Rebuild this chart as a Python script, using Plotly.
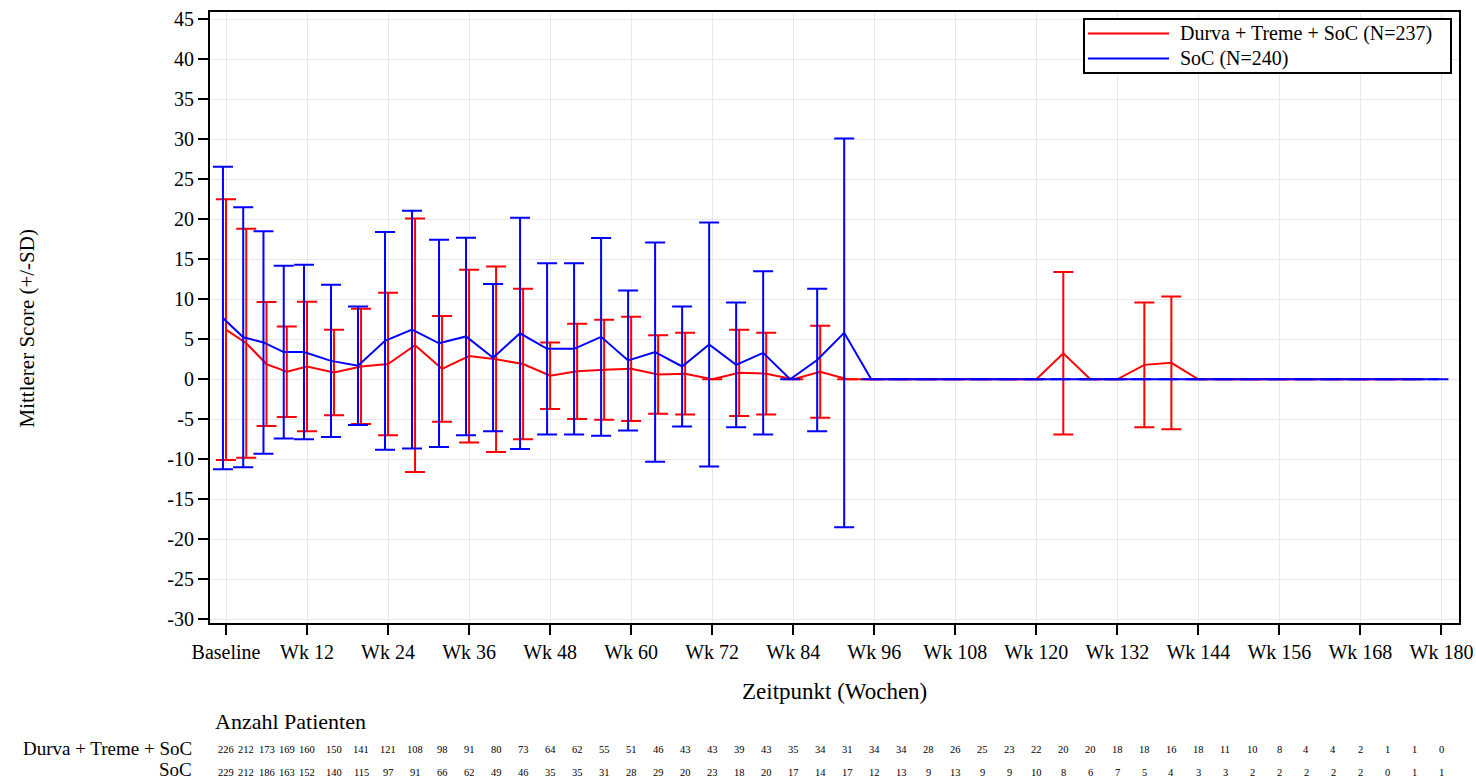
import plotly.graph_objects as go

# ---------------- data ----------------
weeks = [0, 3, 6, 9, 12, 16, 20, 24, 28, 32, 36, 40, 44, 48, 52, 56, 60, 64, 68, 72,
         76, 80, 84, 88, 92, 96, 100, 104, 108, 112, 116, 120, 124, 128, 132, 136,
         140, 144, 148, 152, 156, 160, 164, 168, 172, 176, 180]

durva_mean = [6.2, 4.5, 1.9, 0.95, 1.6, 0.85, 1.6, 1.9, 4.25, 1.3, 2.9, 2.5, 1.9, 0.45,
              1.0, 1.2, 1.3, 0.6, 0.7, 0.0, 0.8, 0.7, 0.0, 0.95, 0.0, 0.0, 0.0, 0.0,
              0.0, 0.0, 0.0, 0.0, 3.25, 0.0, 0.0, 1.8, 2.05, 0.0, 0.0, 0.0, 0.0, 0.0,
              0.0, 0.0, 0.0, 0.0, None]
durva_sd = [16.3, 14.3, 7.75, 5.65, 8.1, 5.35, 7.2, 8.9, 15.85, 6.6, 10.8, 11.6, 9.4,
            4.15, 5.95, 6.25, 6.5, 4.9, 5.1, 0.0, 5.4, 5.1, 0.0, 5.75, 0.0, 0.0, 0.0,
            0.0, 0.0, 0.0, 0.0, 0.0, 10.15, 0.0, 0.0, 7.8, 8.3, 0.0, 0.0, 0.0, 0.0,
            0.0, 0.0, 0.0, 0.0, 0.0, None]

soc_mean = [7.65, 5.25, 4.6, 3.4, 3.4, 2.3, 1.7, 4.8, 6.2, 4.5, 5.35, 2.7, 5.75, 3.8,
            3.8, 5.3, 2.35, 3.4, 1.6, 4.35, 1.8, 3.3, 0.0, 2.4, 5.8, 0.0, 0.0, 0.0,
            0.0, 0.0, 0.0, 0.0, 0.0, 0.0, 0.0, 0.0, 0.0, 0.0, 0.0, 0.0, 0.0, 0.0,
            0.0, 0.0, 0.0, 0.0, 0.0]
soc_sd = [18.9, 16.25, 13.9, 10.8, 10.9, 9.5, 7.4, 13.6, 14.85, 12.95, 12.35, 9.2,
          14.45, 10.7, 10.7, 12.35, 8.75, 13.7, 7.5, 15.25, 7.8, 10.2, 0.0, 8.9, 24.3,
          0.0, 0.0, 0.0, 0.0, 0.0, 0.0, 0.0, 0.0, 0.0, 0.0, 0.0, 0.0, 0.0, 0.0, 0.0,
          0.0, 0.0, 0.0, 0.0, 0.0, 0.0, 0.0]

durva_n = [226, 212, 173, 169, 160, 150, 141, 121, 108, 98, 91, 80, 73, 64, 62, 55, 51,
           46, 43, 43, 39, 43, 35, 34, 31, 34, 34, 28, 26, 25, 23, 22, 20, 20, 18, 18,
           16, 18, 11, 10, 8, 4, 4, 2, 1, 1, 0]
soc_n = [229, 212, 186, 163, 152, 140, 115, 97, 91, 66, 62, 49, 46, 35, 35, 31, 28, 29,
         20, 23, 18, 20, 17, 14, 17, 12, 13, 9, 13, 9, 9, 10, 8, 6, 7, 5, 4, 3, 3, 2,
         2, 2, 2, 2, 0, 1, 1]

tick_weeks = [0, 12, 24, 36, 48, 60, 72, 84, 96, 108, 120, 132, 144, 156, 168, 180]
tick_labels = ["Baseline", "Wk 12", "Wk 24", "Wk 36", "Wk 48", "Wk 60", "Wk 72",
               "Wk 84", "Wk 96", "Wk 108", "Wk 120", "Wk 132", "Wk 144", "Wk 156",
               "Wk 168", "Wk 180"]
y_ticks = [-30, -25, -20, -15, -10, -5, 0, 5, 10, 15, 20, 25, 30, 35, 40, 45]
y_labels = ["-30", "-25", "-20", "-15", "-10", "-5", "0", "5", "10", "15", "20",
            "25", "30", "35", "40", "45"]

name_durva = "Durva + Treme + SoC (N=237)"
name_soc = "SoC (N=240)"
row_durva = "Durva + Treme + SoC"
row_soc = "SoC"

# ---------------- style / layout ----------------
RED = "#ff0000"
BLUE = "#0000ff"
FONT = "Liberation Serif, Times New Roman, Times, serif"
SOC_OFFSET = -0.45
W, H = 1476, 782
PL, PR, PT, PB = 210, 1459, 12, 623


def px(x):
    return (x - PL) / (PR - PL)


def py(y):
    return (PB - y) / (PB - PT)


fig = go.Figure()

fig.add_trace(go.Scatter(
    x=weeks, y=durva_mean, mode="lines", name=name_durva,
    line=dict(color=RED, width=2),
    error_y=dict(type="data", array=durva_sd, visible=True, color=RED,
                 thickness=2, width=10),
    showlegend=False,
))
fig.add_trace(go.Scatter(
    x=[w + SOC_OFFSET for w in weeks], y=soc_mean, mode="lines", name=name_soc,
    line=dict(color=BLUE, width=2),
    error_y=dict(type="data", array=soc_sd, visible=True, color=BLUE,
                 thickness=2, width=10),
    showlegend=False,
))

annotations = []
shapes = []

# legend (drawn manually to match the long line samples)
shapes.append(dict(type="rect", xref="paper", yref="paper",
                   x0=px(1084), x1=px(1451), y0=py(73), y1=py(19),
                   line=dict(color="black", width=2), fillcolor="white", layer="above"))
for yy, col, txt in [(33.5, RED, name_durva), (58.5, BLUE, name_soc)]:
    shapes.append(dict(type="line", xref="paper", yref="paper",
                       x0=px(1088), x1=px(1169), y0=py(yy), y1=py(yy),
                       line=dict(color=col, width=2), layer="above"))
    annotations.append(dict(text=txt, xref="paper", yref="paper", x=px(1178), y=py(yy),
                            xanchor="left", yanchor="middle", showarrow=False,
                            font=dict(family=FONT, size=20, color="black")))

# axis titles
annotations.append(dict(text="Mittlerer Score (+/-SD)", xref="paper", yref="paper",
                        x=px(26.5), y=py(329), textangle=-90, xanchor="center",
                        yanchor="middle", showarrow=False,
                        font=dict(family=FONT, size=21, color="black")))
annotations.append(dict(text="Zeitpunkt (Wochen)", xref="paper", yref="paper",
                        x=px(834.5), y=py(691), xanchor="center", yanchor="middle",
                        showarrow=False, font=dict(family=FONT, size=23, color="black")))

# at-risk table
annotations.append(dict(text="Anzahl Patienten", xref="paper", yref="paper",
                        x=px(213), y=py(721), xanchor="left", yanchor="middle",
                        showarrow=False, font=dict(family=FONT, size=22, color="black")))
for yy, txt in [(748, row_durva), (769, row_soc)]:
    annotations.append(dict(text=txt, xref="paper", yref="paper", x=px(193), y=py(yy),
                            xanchor="right", yanchor="middle", showarrow=False,
                            borderpad=0,
                            font=dict(family=FONT, size=19, color="black")))
for counts, yy in [(durva_n, 749), (soc_n, 772)]:
    for w, n in zip(weeks, counts):
        annotations.append(dict(text=str(n), xref="x", yref="paper", x=w, y=py(yy),
                                xanchor="center", yanchor="middle", showarrow=False,
                                font=dict(family=FONT, size=10.5, color="black")))

fig.update_layout(
    width=W, height=H, autosize=False,
    margin=dict(l=PL, r=W - PR, t=PT, b=H - PB, pad=0, autoexpand=False),
    paper_bgcolor="white", plot_bgcolor="white",
    font=dict(family=FONT, color="black"),
    annotations=annotations, shapes=shapes,
    showlegend=False,
)
fig.update_xaxes(
    range=[-2.37, 182.6], tickmode="array", tickvals=tick_weeks, ticktext=tick_labels,
    automargin=False,
    showgrid=True, gridcolor="#e8e8e8", gridwidth=1, zeroline=False,
    showline=True, linecolor="black", linewidth=2, mirror=True,
    ticks="outside", ticklen=10, tickwidth=2, tickcolor="black",
    tickfont=dict(family=FONT, size=20, color="black"),
)
fig.update_yaxes(
    range=[-30.46, 45.9], tickmode="array", tickvals=y_ticks, ticktext=y_labels,
    automargin=False,
    showgrid=True, gridcolor="#e8e8e8", gridwidth=1, zeroline=False,
    showline=True, linecolor="black", linewidth=2, mirror=True,
    ticks="outside", ticklen=10, tickwidth=2, tickcolor="black",
    tickfont=dict(family=FONT, size=20, color="black"),
)

fig.write_html("out.html")
